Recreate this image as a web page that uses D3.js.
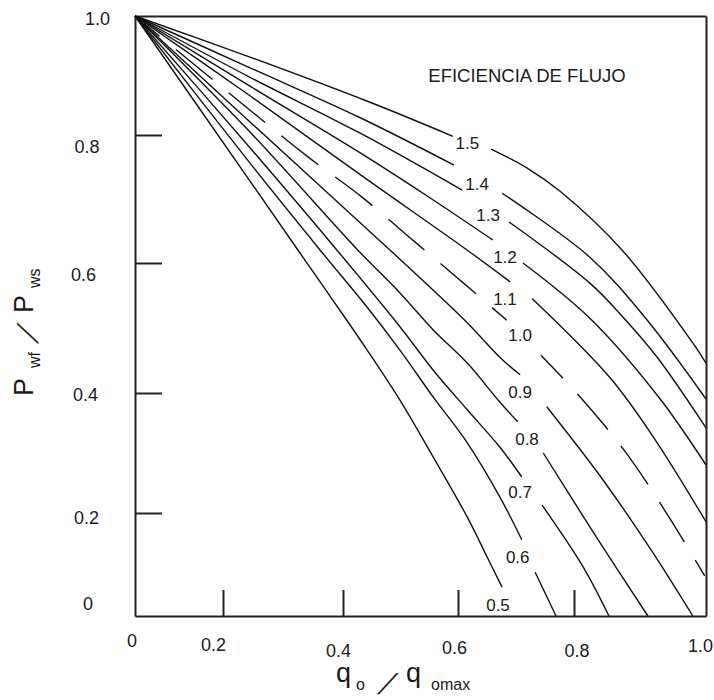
<!DOCTYPE html>
<html>
<head>
<meta charset="utf-8">
<script src="https://cdn.jsdelivr.net/npm/d3@7"></script>
<style>
html, body { margin: 0; padding: 0; background: #fff; }
svg { display: block; }
text { font-family: "Liberation Sans", Arial, sans-serif; fill: #1a1a1a; }
</style>
</head>
<body>
<svg id="chart" width="714" height="700"></svg>
<script>
// ---------- data ----------
const tickValues = [0, 0.2, 0.4, 0.6, 0.8, 1.0];
const xTickLabels = ["0", "0.2", "0.4", "0.6", "0.8", "1.0"];
const yTickLabels = ["0", "0.2", "0.4", "0.6", "0.8", "1.0"];
const titleText = "EFICIENCIA DE FLUJO";
const efficiencies = ["1.5", "1.4", "1.3", "1.2", "1.1", "1.0", "0.9", "0.8", "0.7", "0.6", "0.5"];

// [q/qmax, Pwf/Pws]; null marks the gap where the curve label sits
const curve15 = [[0,1],[0.245,0.931],[0.447,0.855],[0.591,0.798],null,[0.657,0.778],[0.720,0.748],[0.776,0.712],[0.873,0.620],[0.980,0.477],[1.0,0.446]];
const curve14 = [[0,1],[0.245,0.913],[0.430,0.829],[0.593,0.753],null,[0.676,0.709],[0.824,0.609],[0.911,0.512],[1.0,0.390]];
const curve13 = [[0,1],[0.245,0.897],[0.430,0.803],[0.607,0.714],null,[0.688,0.664],[0.824,0.569],[0.874,0.517],[0.926,0.455],[1.0,0.342]];
const curve12 = [[0,1],[0.245,0.882],[0.430,0.772],[0.551,0.702],[0.660,0.636],null,[0.712,0.600],[0.824,0.515],[0.932,0.388],[1.0,0.280]];
const curve11 = [[0,1],[0.245,0.866],[0.430,0.738],[0.616,0.620],[0.690,0.571],null,[0.728,0.545],[0.855,0.423],[0.923,0.322],[1.0,0.183]];
const curve10 = [[0,1],[0.212,0.869],[0.340,0.767],[0.433,0.703],[0.525,0.633],[0.607,0.571],[0.684,0.512],null,[0.743,0.458],[0.808,0.395],[0.877,0.303],[0.942,0.196],[0.998,0.078]];
const curve09 = [[0,1],[0.245,0.822],[0.482,0.620],[0.557,0.558],[0.616,0.508],[0.672,0.455],[0.707,0.428],null,[0.753,0.377],[0.844,0.255],[0.920,0.122],[0.980,0]];
const curve08 = [[0,1],[0.245,0.805],[0.426,0.620],[0.499,0.554],[0.557,0.497],[0.616,0.446],[0.672,0.385],[0.703,0.352],null,[0.747,0.300],[0.832,0.157],[0.912,0]];
const curve07 = [[0,1],[0.245,0.780],[0.390,0.620],[0.499,0.502],[0.557,0.435],[0.616,0.372],[0.672,0.310],[0.710,0.260],null,[0.745,0.213],[0.814,0.095],[0.853,0]];
const curve06 = [[0,1],[0.245,0.756],[0.362,0.620],[0.442,0.532],[0.499,0.466],[0.557,0.393],[0.616,0.317],[0.672,0.227],[0.710,0.148],null,[0.733,0.085],[0.769,0]];
const curve05 = [[0,1],[0.245,0.728],[0.328,0.616],[0.383,0.543],[0.442,0.466],[0.499,0.388],[0.557,0.293],[0.616,0.192],[0.650,0.115],[0.676,0.056]];

// label anchor of each curve, in data units
const labelPoints = [[0.616,0.788],[0.633,0.723],[0.652,0.675],[0.681,0.609],[0.681,0.545],[0.707,0.489],[0.707,0.402],[0.719,0.323],[0.707,0.235],[0.703,0.115],[0.669,0.021]];

// ---------- layout ----------
const curves = [curve15, curve14, curve13, curve12, curve11, curve10, curve09, curve08, curve07, curve06, curve05];
const svg = d3.select("#chart");

// hand-drawn axes: tick marks are not evenly spaced, so piecewise-linear scales
const x = d3.scaleLinear().domain(tickValues).range([135, 223, 343, 458, 574, 706]);
const y = d3.scaleLinear().domain(tickValues).range([616, 513, 393, 263, 135, 16]);
// tick-label anchors (hand-lettered, slightly irregular)
const xLabelX = d3.scaleLinear().domain(tickValues).range([132, 213.5, 338.5, 454.5, 577, 700.5]);
const xLabelY = d3.scaleLinear().domain(tickValues).range([640.5, 645, 650.5, 647.5, 650.5, 645.5]);
const yLabelX = d3.scaleLinear().domain(tickValues).range([88, 86.5, 85.5, 83.5, 87, 97.5]);
const yLabelY = d3.scaleLinear().domain(tickValues).range([603.5, 517.5, 394.5, 274.5, 146.5, 19]);

const inner = tickValues.slice(1, -1);

// frame + inward ticks
svg.append("g").attr("transform", "translate(0,616)")
  .call(d3.axisBottom(x).tickValues(inner).tickSize(-26).tickSizeOuter(0).tickFormat(""));
svg.append("g").attr("transform", "translate(135,0)")
  .call(d3.axisLeft(y).tickValues(inner).tickSize(-27).tickSizeOuter(0).tickFormat(""));
svg.append("g").attr("transform", "translate(0,16)")
  .call(d3.axisTop(x).tickValues([]).tickSizeOuter(0));
svg.append("g").attr("transform", "translate(706,0)")
  .call(d3.axisRight(y).tickValues([]).tickSizeOuter(0));
svg.selectAll(".tick text").remove();
svg.selectAll(".domain, .tick line").attr("stroke", "#222").attr("stroke-width", 2);

// tick labels
svg.append("g").selectAll("text").data(tickValues).join("text")
  .attr("x", d => xLabelX(d)).attr("y", d => xLabelY(d) + 6.4)
  .attr("text-anchor", "middle").attr("font-size", 18)
  .text((d, i) => xTickLabels[i]);
svg.append("g").selectAll("text").data(tickValues).join("text")
  .attr("x", d => yLabelX(d)).attr("y", d => yLabelY(d) + 6.4)
  .attr("text-anchor", "middle").attr("font-size", 18)
  .text((d, i) => yTickLabels[i]);

// curves
const line = d3.line()
  .defined(d => d !== null)
  .x(d => x(d[0])).y(d => y(d[1]))
  .curve(d3.curveCatmullRom.alpha(0.5));

svg.append("g").selectAll("path").data(curves).join("path")
  .attr("d", line)
  .attr("fill", "none")
  .attr("stroke", "#111")
  .attr("stroke-width", 1.4)
  .attr("stroke-linejoin", "round")
  .attr("stroke-dasharray", (d, i) => efficiencies[i] === "1.0" ? "47,21" : null)
  .attr("stroke-dashoffset", (d, i) => efficiencies[i] === "1.0" ? 15 : null);

// curve labels
svg.append("g").selectAll("text").data(labelPoints).join("text")
  .attr("x", d => x(d[0])).attr("y", d => y(d[1]) + 6)
  .attr("text-anchor", "middle").attr("font-size", 17)
  .text((d, i) => efficiencies[i]);

// legend title
svg.append("text").attr("x", 527).attr("y", 82)
  .attr("text-anchor", "middle").attr("font-size", 18.5)
  .text(titleText);

// x axis title: q_o / q_omax
const xt = svg.append("g");
xt.append("text").attr("x", 336).attr("y", 682).attr("font-size", 27).text("q");
xt.append("text").attr("x", 356).attr("y", 690).attr("font-size", 16).text("o");
xt.append("text").attr("transform", "translate(377,694) skewX(-33)").attr("font-size", 29).text("/");
xt.append("text").attr("x", 406).attr("y", 682).attr("font-size", 27).text("q");
xt.append("text").attr("x", 431).attr("y", 690).attr("font-size", 16).text("omax");

// y axis title: P_wf / P_ws (rotated)
const yt = svg.append("g").attr("transform", "rotate(-90)");
yt.append("text").attr("x", -396).attr("y", 33).attr("font-size", 27).text("P");
yt.append("text").attr("x", -368).attr("y", 40).attr("font-size", 16).text("wf");
yt.append("text").attr("transform", "translate(-344,38) skewX(-33)").attr("font-size", 29).text("/");
yt.append("text").attr("x", -313).attr("y", 33).attr("font-size", 27).text("P");
yt.append("text").attr("x", -288).attr("y", 40).attr("font-size", 16).text("ws");
</script>
</body>
</html>
